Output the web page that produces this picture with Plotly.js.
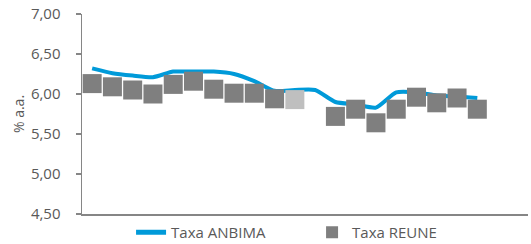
<!DOCTYPE html>
<html><head><meta charset="utf-8">
<script src="https://cdn.plot.ly/plotly-3.0.1.min.js"></script>
<style>html,body{margin:0;padding:0;background:#fff;}#chart{width:531px;height:244px;}</style>
</head><body><div id="chart"></div>
<script>
// 22 category slots, data in the first 20
const categories = Array.from({length: 22}, (_, i) => i + 1);
const taxaAnbima = [6.32, 6.26, 6.23, 6.21, 6.28, 6.28, 6.28, 6.25, 6.16, 6.04, 6.05, 6.05, 5.90, 5.87, 5.83, 6.02, 6.02, 5.98, 5.97, 5.95];
const taxaReune = [6.13, 6.09, 6.05, 6.00, 6.12, 6.16, 6.06, 6.01, 6.01, 5.94, 5.93, null, 5.72, 5.81, 5.64, 5.81, 5.96, 5.89, 5.95, 5.81];
const reuneColors = taxaReune.map((v, i) => i === 10 ? '#BFBFBF' : '#7F7F7F');
const yTicks = [4.5, 5.0, 5.5, 6.0, 6.5, 7.0];

const traces = [
  {
    x: categories.slice(0, taxaAnbima.length), y: taxaAnbima, name: 'Taxa ANBIMA',
    type: 'scatter', mode: 'lines',
    line: {color: '#009AD9', width: 4, shape: 'spline', smoothing: 0.6}
  },
  {
    x: categories.slice(0, taxaReune.length), y: taxaReune, name: 'Taxa REUNE',
    type: 'scatter', mode: 'markers',
    marker: {symbol: 'square', size: 19, color: reuneColors, line: {width: 0}}
  }
];

const layout = {
  width: 531, height: 244,
  margin: {l: 82, r: 3, t: 14, b: 30, autoexpand: false},
  paper_bgcolor: '#fff', plot_bgcolor: '#fff',
  separators: ',.',
  font: {family: 'Open Sans, sans-serif', color: '#595959', size: 15},
  showlegend: true,
  legend: {
    orientation: 'h', x: 0.110, xanchor: 'left', y: -0.01, yanchor: 'top',
    font: {size: 15, color: '#595959'}, entrywidth: 136, entrywidthmode: 'pixels',
    itemsizing: 'constant', bgcolor: 'rgba(0,0,0,0)'
  },
  xaxis: {
    type: 'linear', range: [0.5, 22.5],
    showticklabels: false, ticks: '', showgrid: false, zeroline: false,
    showline: true, linecolor: '#868686', linewidth: 1.5
  },
  yaxis: {
    range: [4.5, 7.0], tickvals: yTicks, tickformat: '.2f',
    ticks: 'outside', ticklen: 5, tickcolor: '#868686', tickwidth: 1.5,
    ticklabelstandoff: 12,
    showgrid: false, zeroline: false,
    showline: true, linecolor: '#868686', linewidth: 1.5,
    tickfont: {size: 15, color: '#595959'},
    title: {text: '% a.a.', font: {size: 14, color: '#595959'}, standoff: 3}
  }
};

Plotly.newPlot('chart', traces, layout, {displayModeBar: false, staticPlot: true});
</script></body></html>
